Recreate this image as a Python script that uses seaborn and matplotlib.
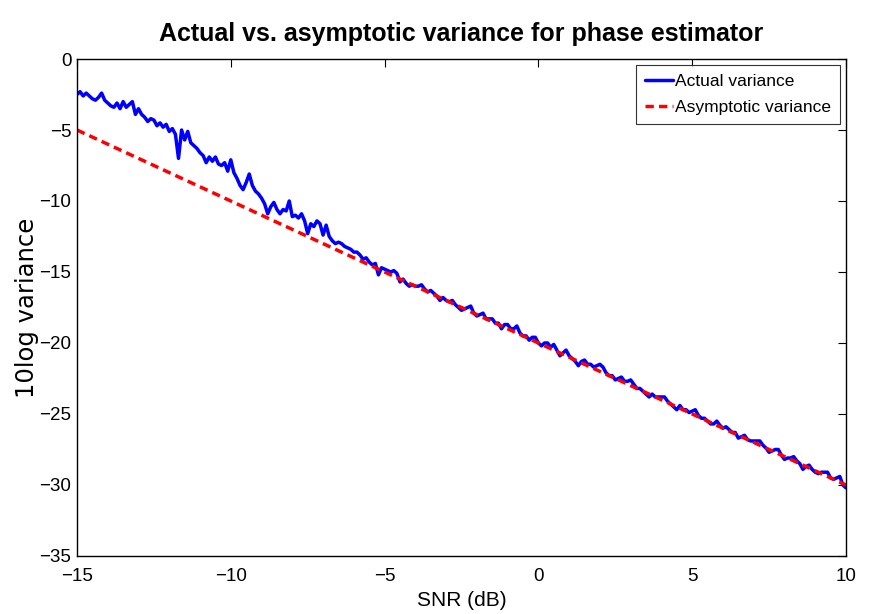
import matplotlib
matplotlib.use("Agg")

import numpy as np
import pandas as pd
import matplotlib.pyplot as plt
import seaborn as sns

# SNR grid (dB), 0.1 dB steps from -15 to 10
snr_db = np.linspace(-15, 10, 251)

# actual variance (10log)
actual_var = [
    -2.5, -2.3, -2.6, -2.4, -2.6, -2.8, -2.9, -2.7, -2.4, -2.9, -3.1,
    -3.3, -3.4, -3.1, -3.5, -3.0, -3.4, -3.2, -3.0, -3.9, -3.5,
    -3.9, -4.1, -4.4, -4.2, -4.3, -4.7, -4.5, -4.8, -4.6, -5.1,
    -4.9, -5.3, -7.0, -5.0, -5.7, -5.1, -5.9, -6.1, -6.3, -6.6,
    -6.8, -7.3, -6.9, -7.2, -6.9, -7.4, -7.5, -7.3, -7.9, -7.1,
    -8.0, -8.4, -8.9, -9.2, -8.7, -8.1, -8.9, -9.3, -9.5, -9.8,
    -10.2, -10.9, -10.4, -10.1, -10.6, -10.9, -10.6, -10.7, -10.0, -11.1,
    -11.0, -11.2, -10.9, -11.4, -12.3, -11.6, -11.8, -11.4, -11.6, -12.4,
    -11.7, -12.5, -12.8, -13.0, -12.9, -13.0, -13.2, -13.3, -13.4, -13.6,
    -13.6, -13.8, -14.1, -14.0, -14.3, -14.5, -14.4, -15.2, -14.7, -14.8,
    -14.9, -15.0, -14.9, -15.1, -15.7, -15.5, -15.8, -16.0, -15.9, -16.0,
    -16.0, -15.9, -16.2, -16.4, -16.3, -16.5, -16.7, -17.0, -16.8, -17.0,
    -17.1, -17.0, -17.3, -17.5, -17.7, -17.6, -17.5, -17.4, -17.9, -18.1,
    -18.0, -17.9, -18.3, -18.3, -18.3, -18.6, -18.6, -19.0, -18.7, -18.7,
    -19.0, -19.0, -18.8, -19.3, -19.5, -19.5, -19.8, -19.6, -19.6, -20.0,
    -20.2, -20.0, -20.0, -20.3, -20.1, -20.5, -20.9, -20.7, -20.5, -20.9,
    -21.1, -21.3, -21.6, -21.3, -21.2, -21.5, -21.5, -21.7, -21.6, -21.5,
    -21.7, -22.1, -22.3, -22.3, -22.6, -22.5, -22.4, -22.7, -22.7, -22.6,
    -22.9, -23.2, -23.2, -23.4, -23.6, -23.8, -23.6, -23.8, -23.8, -23.8,
    -23.8, -24.1, -24.3, -24.5, -24.7, -24.4, -24.7, -24.7, -24.9, -24.8,
    -24.7, -25.1, -25.3, -25.3, -25.5, -25.7, -25.7, -25.5, -25.8, -26.0,
    -25.9, -26.1, -26.3, -26.3, -26.7, -26.6, -26.5, -26.8, -26.9, -26.9,
    -26.9, -26.9, -27.2, -27.4, -27.7, -27.6, -27.5, -27.5, -27.9, -28.2,
    -28.1, -28.1, -28.0, -28.3, -28.5, -28.9, -28.7, -28.6, -28.9, -29.1,
    -29.2, -29.1, -29.1, -29.1, -29.5, -29.6, -29.5, -29.4, -30.0, -30.2,
]

# asymptotic variance: straight line between the end points
asym_snr = [-15, 10]
asym_var = [-5, -30]

assert len(actual_var) == len(snr_db)

df_actual = pd.DataFrame({"snr": snr_db, "var": actual_var})
df_asym = pd.DataFrame({"snr": asym_snr, "var": asym_var})

sns.set_style("white")
plt.rcParams["font.family"] = ["Liberation Sans Narrow", "Liberation Sans", "DejaVu Sans"]
plt.rcParams["text.color"] = "black"
plt.rcParams["axes.labelcolor"] = "black"
plt.rcParams["axes.unicode_minus"] = True

fig = plt.figure(figsize=(8.69, 6.14), dpi=100)
ax = fig.add_axes([0.0886, 0.0945, 0.8849, 0.8094])

sns.lineplot(data=df_actual, x="snr", y="var", ax=ax, color="#0000ff",
             linewidth=2.5, label="Actual variance")
sns.lineplot(data=df_asym, x="snr", y="var", ax=ax, color="#ff0000",
             linewidth=2.5, linestyle=(0, (2.4, 1.5)), label="Asymptotic variance")

ax.set_xlim(-15, 10)
ax.set_ylim(-35, 0)
ax.set_xticks([-15, -10, -5, 0, 5, 10])
ax.set_yticks([0, -5, -10, -15, -20, -25, -30, -35])
ax.tick_params(direction="in", length=6, width=0.8, top=True, right=True,
               labelsize=13.5, colors="black")
ax.tick_params(axis="x", pad=9)
ax.tick_params(axis="y", pad=4)

for s in ax.spines.values():
    s.set_color("black")
    s.set_linewidth(1.0)

ax.set_title("Actual vs. asymptotic variance for phase estimator",
             fontsize=18, fontweight="bold", pad=13, color="black")
ax.set_xlabel("SNR (dB)", fontsize=15, labelpad=4)
ax.set_ylabel("10log variance", fontsize=17.5, family="DejaVu Sans", labelpad=0)

leg = ax.legend(loc="upper right", fontsize=12.5, frameon=True, fancybox=False,
                borderpad=0.5, handlelength=1.6, handletextpad=0.15,
                labelspacing=0.65, borderaxespad=0.35)
leg.get_frame().set_edgecolor("black")
leg.get_frame().set_linewidth(0.8)

fig.savefig("out.png", dpi=100)
